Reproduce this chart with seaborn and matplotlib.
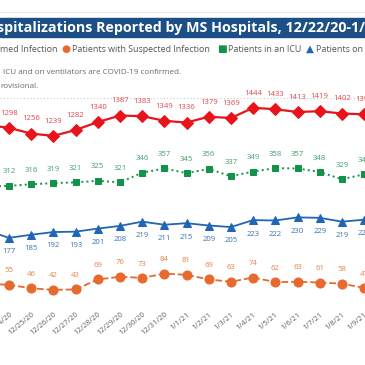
import numpy as np
import pandas as pd
import seaborn as sns
import matplotlib.pyplot as plt
from matplotlib.patches import Rectangle
from matplotlib.lines import Line2D

dates = ["12/22/20", "12/23/20", "12/24/20", "12/25/20", "12/26/20", "12/27/20", "12/28/20",
         "12/29/20", "12/30/20", "12/31/20", "1/1/21", "1/2/21", "1/3/21", "1/4/21", "1/5/21",
         "1/6/21", "1/7/21", "1/8/21", "1/9/21", "1/10/21", "1/11/21"]
confirmed = [1305, 1318, 1298, 1256, 1239, 1282, 1340, 1387, 1383, 1349, 1336, 1379, 1369,
             1444, 1433, 1413, 1419, 1402, 1396, 1390, 1385]
icu = [305, 310, 312, 316, 319, 321, 325, 321, 346, 357, 345, 356, 337, 349, 358, 357, 348,
       329, 342, 338, 335]
vent = [190, 196, 177, 185, 192, 193, 201, 208, 219, 211, 215, 209, 205, 223, 222, 230, 229,
        219, 224, 226, 224]
suspected = [62, 58, 55, 46, 42, 43, 69, 76, 73, 84, 81, 69, 63, 74, 62, 63, 61, 58, 47, 45, 44]

df = pd.DataFrame({"idx": np.arange(len(dates)), "date": dates, "confirmed": confirmed,
                   "icu": icu, "vent": vent, "suspected": suspected})

sns.set_style("white")
plt.rcParams['font.family'] = ['Open Sans', 'DejaVu Sans']

RED, GREEN, BLUE, ORANGE = "#e8131b", "#13934a", "#2166b5", "#e8692e"
LRED, LGREEN, LBLUE, LORANGE = "#e0474c", "#3f9f6a", "#3a73b5", "#ea7f4c"

fig = plt.figure(figsize=(3.65, 3.65), dpi=100)
ax = fig.add_axes([0, 0.1616, 1, 0.5699])
ax2 = ax.twinx()

# primary axis: icu, ventilators, suspected
series = [("icu", GREEN, LGREEN, "s", 4.3, ":", 1.4, 10),
          ("vent", BLUE, LBLUE, "^", 5.2, "-", 1.3, -10),
          ("suspected", ORANGE, LORANGE, "o", 6.5, "--", 1.3, 10)]
for col, c, lc, m, ms, ls, lw, off in series:
    sns.lineplot(data=df, x="idx", y=col, ax=ax, color=c, marker=m, markersize=ms,
                 markeredgecolor=c, linestyle=ls, linewidth=lw)
    for i, v in zip(df["idx"], df[col]):
        ax.annotate(str(v), (i, v), xytext=(0, off), textcoords="offset points",
                    ha="center", va="center", fontsize=5.6, color=lc)

sns.lineplot(data=df, x="idx", y="confirmed", ax=ax2, color=RED, marker="D", markersize=5.8,
             markeredgecolor=RED, linewidth=1.6)
for i, v in zip(df["idx"], df["confirmed"]):
    ax2.annotate(str(v), (i, v), xytext=(0, 10.5), textcoords="offset points",
                 ha="center", va="center", fontsize=5.6, color=LRED)

ax.set_ylim(0, 540)
ax2.set_ylim(0, 1515)
for a in (ax, ax2):
    a.set_ylabel("")
    a.set_yticks([])
    for s in a.spines.values():
        s.set_visible(False)
ax.set_xlabel("")
ax.axhline(540, color="#c8c8c8", linestyle=(0, (1, 2)), linewidth=0.8)
ax.axhline(0, color="#c8c8c8", linestyle=(0, (1, 2)), linewidth=0.8)
ax.set_xticks(df["idx"])
ax.set_xticklabels(df["date"], rotation=40, ha="right", rotation_mode="anchor",
                   fontsize=5.5, color="#606060")
ax.tick_params(axis="x", length=0, pad=3.5)
ax.set_xlim(1.594, 18.04)
ax2.set_xlim(1.594, 18.04)
ax.patch.set_alpha(0)

# header
fig.add_artist(Rectangle((0, 1 - 37 / 365), 1, 19 / 365, transform=fig.transFigure,
                         color="#1c4f86", zorder=0))
fig.add_artist(Line2D([0, 1], [1 - 12 / 365] * 2, transform=fig.transFigure,
                      color="#e6e6e6", linewidth=0.8))
fig.text(-0.008, 1 - 28 / 365, "spitalizations Reported by MS Hospitals, 12/22/20-1/11/21",
         color="white", fontsize=10.3, fontweight="bold", va="center", ha="left")

ly = 1 - 49 / 365
fig.text(0, ly, "med Infection", fontsize=6.4, color="#555555", va="center")
fig.text(66 / 365, ly, "\u25CF", fontsize=7.5, color=ORANGE, va="center", ha="center",
         family="DejaVu Sans")
fig.text(72 / 365, ly, "Patients with Suspected Infection", fontsize=6.4, color="#555555",
         va="center")
fig.text(222 / 365, ly, "\u25A0", fontsize=7.5, color=GREEN, va="center", ha="center",
         family="DejaVu Sans")
fig.text(228 / 365, ly, "Patients in an ICU", fontsize=6.4, color="#555555", va="center")
fig.text(310 / 365, ly, "\u25B2", fontsize=7.5, color=BLUE, va="center", ha="center",
         family="DejaVu Sans")
fig.text(316 / 365, ly, "Patients on Ventilators", fontsize=6.4, color="#555555", va="center")

fig.text(3 / 365, 1 - 73 / 365, "ICU and on ventilators are COVID-19 confirmed.",
         fontsize=5.8, color="#6a6a6a", va="center")
fig.text(0, 1 - 86 / 365, "rovisional.", fontsize=5.8, color="#6a6a6a", va="center")

fig.savefig("out.png", dpi=100)
